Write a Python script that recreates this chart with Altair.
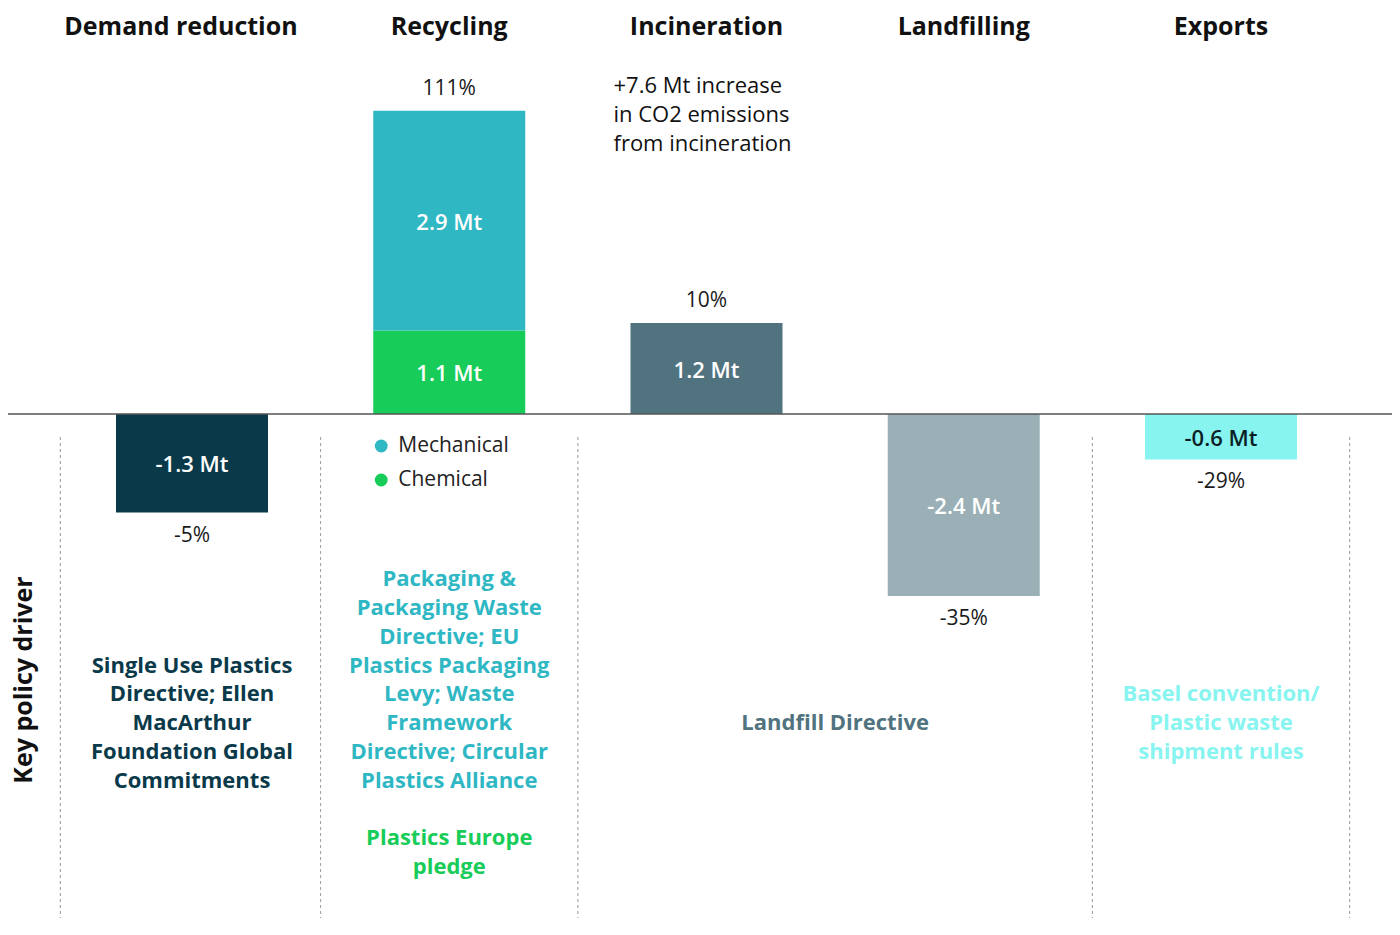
import altair as alt
import pandas as pd

# ---------------- data ----------------
categories = ["Demand reduction", "Recycling", "Incineration", "Landfilling", "Exports"]
pct_labels = ["-5%", "111%", "10%", "-35%", "-29%"]

seg_category = ["Demand reduction", "Recycling", "Recycling", "Incineration", "Landfilling", "Exports"]
seg_part = ["Demand reduction", "Chemical", "Mechanical", "Incineration", "Landfilling", "Exports"]
seg_value = [-1.3, 1.1, 2.9, 1.2, -2.4, -0.6]
seg_label = ["-1.3 Mt", "1.1 Mt", "2.9 Mt", "1.2 Mt", "-2.4 Mt", "-0.6 Mt"]

part_colors = ["#0A3A4A", "#17CC58", "#2FB7C4", "#517380", "#9BB0B6", "#88F4F0"]
label_colors = ["#FFFFFF", "#FFFFFF", "#FFFFFF", "#FFFFFF", "#FFFFFF", "#0B1F26"]

legend_items = ["Mechanical", "Chemical"]

incineration_note = "+7.6 Mt increase\nin CO2 emissions\nfrom incineration"

policy_demand = "Single Use Plastics\nDirective; Ellen\nMacArthur\nFoundation Global\nCommitments"
policy_recycling = "Packaging &\nPackaging Waste\nDirective; EU\nPlastics Packaging\nLevy; Waste\nFramework\nDirective; Circular\nPlastics Alliance"
policy_recycling_green = "Plastics Europe\npledge"
policy_landfill = "Landfill Directive"
policy_exports = "Basel convention/\nPlastic waste\nshipment rules"

# ---------------- layout ----------------
W, H = 1384, 915
FONT = "Open Sans"
PX_PER_MT = 75.8
ZERO_Y = 406
Y_MAX = ZERO_Y / PX_PER_MT
Y_MIN = -(H - ZERO_Y) / PX_PER_MT
STEP = 257.25
HALF = STEP / 2
LH = 28.75

# ---------------- tables ----------------
seg = pd.DataFrame({"category": seg_category, "part": seg_part, "value": seg_value,
                    "label": seg_label, "label_color": label_colors})
bases = []
running = {}
for c, v in zip(seg_category, seg_value):
    b = running.get(c, 0.0)
    bases.append(b)
    running[c] = b + v
seg["base"] = bases
seg["top"] = seg["base"] + seg["value"]
seg["mid"] = (seg["base"] + seg["top"]) / 2

tot = pd.DataFrame({"category": categories, "pct": pct_labels})
tot["total"] = [running[c] for c in categories]

cat_df = pd.DataFrame({"category": categories})

xscale = alt.Scale(domain=categories, paddingInner=0.4091, paddingOuter=0.3945, align=0.532)
X = alt.X("category:N", scale=xscale, axis=None, sort=categories)
yscale = alt.Scale(domain=[Y_MIN, Y_MAX], nice=False, zero=False)
cscale = alt.Scale(domain=seg_part, range=part_colors)

bars = alt.Chart(seg).mark_bar().encode(
    x=X,
    y=alt.Y("base:Q", scale=yscale, axis=None),
    y2="top:Q",
    color=alt.Color("part:N", scale=cscale, legend=None),
)

bar_labels = alt.Chart(seg).mark_text(font=FONT, fontSize=22, fontWeight=600, baseline="middle", dy=2).encode(
    x=X,
    y=alt.Y("mid:Q", scale=yscale, axis=None),
    text="label:N",
    color=alt.Color("label_color:N", scale=None),
)

pct_pos = alt.Chart(tot).transform_filter("datum.total > 0").mark_text(
    font=FONT, fontSize=21, color="#1a1a1a", baseline="middle", dy=-22
).encode(x=X, y=alt.Y("total:Q", scale=yscale, axis=None), text="pct:N")

pct_neg = alt.Chart(tot).transform_filter("datum.total < 0").mark_text(
    font=FONT, fontSize=21, color="#1a1a1a", baseline="middle", dy=23
).encode(x=X, y=alt.Y("total:Q", scale=yscale, axis=None), text="pct:N")

titles_main = alt.Chart(cat_df).transform_filter("datum.category != 'Demand reduction'").mark_text(
    font=FONT, fontSize=25, fontWeight=700, color="#111111", baseline="middle"
).encode(x=X, y=alt.value(19), text="category:N")
titles_demand = alt.Chart(cat_df).transform_filter("datum.category == 'Demand reduction'").mark_text(
    font=FONT, fontSize=25, fontWeight=700, color="#111111", baseline="middle", dx=-11
).encode(x=X, y=alt.value(19), text="category:N")

zero_line = alt.Chart(pd.DataFrame({"zero": [0.0]})).mark_rule(color="#555555", strokeWidth=1.5).encode(
    x=alt.value(0), x2=alt.value(W), y=alt.Y("zero:Q", scale=yscale, axis=None)
)

dash_style = dict(color="#9a9a9a", strokeWidth=1, strokeDash=[3, 3])
left_edges = alt.Chart(cat_df).transform_filter(
    "datum.category != 'Landfilling' && datum.category != 'Demand reduction'"
).mark_rule(xOffset=-HALF, **dash_style).encode(x=X, y=alt.value(429), y2=alt.value(910))
first_edge = alt.Chart(cat_df).transform_filter(
    "datum.category == 'Demand reduction'"
).mark_rule(xOffset=-HALF - 3, **dash_style).encode(x=X, y=alt.value(429), y2=alt.value(910))
right_edge = alt.Chart(cat_df).transform_filter(
    "datum.category == 'Exports'"
).mark_rule(xOffset=HALF, **dash_style).encode(x=X, y=alt.value(429), y2=alt.value(910))


def block(cat, text, color, y_center, dx=0, weight=700, align="center", size=22):
    n = text.count("\n") + 1
    y_first = y_center - (n - 1) * LH / 2
    d = pd.DataFrame({"category": [cat], "t": [text]})
    return alt.Chart(d).mark_text(
        font=FONT, fontSize=size, fontWeight=weight, color=color, align=align,
        baseline="middle", lineBreak="\n", lineHeight=LH, dx=dx
    ).encode(x=X, y=alt.value(y_first), text="t:N")


note = block("Incineration", incineration_note, "#111111", 107, dx=-93, weight=400, align="left", size=22)

policies = [
    block("Demand reduction", policy_demand, "#0A3A4A", 715),
    block("Recycling", policy_recycling, "#2FB7C4", 672),
    block("Recycling", policy_recycling_green, "#17CC58", 844.5),
    block("Incineration", policy_landfill, "#517380", 715, dx=HALF),
    block("Exports", policy_exports, "#88F4F0", 715),
]

legend_layers = []
for i, item in enumerate(legend_items):
    d = pd.DataFrame({"category": ["Recycling"], "part": [item]})
    ly = 438 + i * 34
    legend_layers.append(
        alt.Chart(d).mark_point(filled=True, opacity=1, size=165, shape="circle", xOffset=-68).encode(
            x=X, y=alt.value(ly),
            color=alt.Color("part:N", scale=cscale, legend=None),
        )
    )
    legend_layers.append(
        alt.Chart(d).mark_text(font=FONT, fontSize=21, color="#222222", align="left",
                               baseline="middle", dx=-51).encode(
            x=X, y=alt.value(ly), text="part:N"
        )
    )

side_label = alt.Chart(pd.DataFrame({"t": ["Key policy driver"]})).mark_text(
    font=FONT, fontSize=25, fontWeight=700, color="#111111", angle=270, baseline="middle", align="center"
).encode(x=alt.value(16), y=alt.value(672), text="t:N")

chart = alt.layer(
    bars, bar_labels, pct_pos, pct_neg, zero_line, left_edges, first_edge, right_edge,
    titles_main, titles_demand, note, *policies, *legend_layers, side_label
).properties(
    width=W, height=H, padding=0,
    autosize=alt.AutoSizeParams(type="none"),
).configure_view(stroke=None)

chart.save("out.html", embed_options={"renderer": "svg", "actions": False})
